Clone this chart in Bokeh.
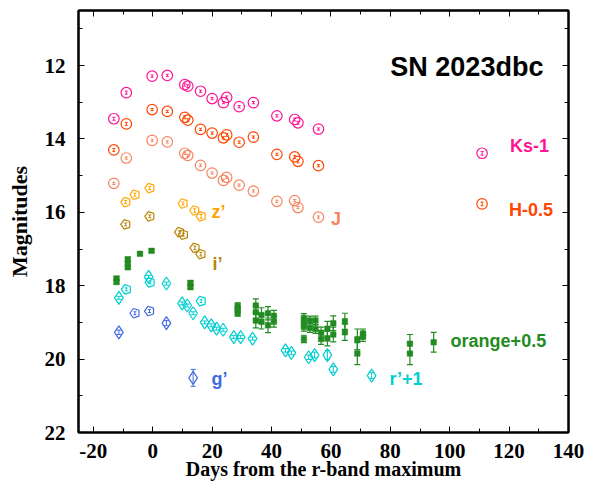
from bokeh.plotting import figure
from bokeh.models import (ColumnDataSource, Range1d, LinearAxis, Whisker, TeeHead,
                          Label, SingleIntervalTicker, CustomJSTickFormatter)
from bokeh.embed import file_html
from bokeh.resources import INLINE

# ---------------- data ----------------
ks_day = [-13.1, -8.9, -0.2, 4.9, 10.8, 11.8, 16.1, 20.0, 23.8, 24.9, 29.1, 33.9, 41.8, 47.8, 48.9, 55.8, 110.9]
ks_mag = [13.45, 12.74, 12.29, 12.27, 12.52, 12.56, 12.70, 12.90, 13.01, 12.87, 13.12, 13.01, 13.37, 13.47, 13.56, 13.73, 14.39]
ks_err = [0.04, 0.04, 0.03, 0.03, 0.04, 0.04, 0.03, 0.03, 0.03, 0.04, 0.03, 0.03, 0.03, 0.04, 0.04, 0.03, 0.05]

h_day = [-13.1, -8.9, -0.2, 4.9, 10.8, 11.8, 16.1, 20.0, 23.8, 24.9, 29.1, 33.9, 41.8, 47.8, 48.9, 55.8, 110.9]
h_mag = [14.30, 13.59, 13.20, 13.25, 13.41, 13.49, 13.74, 13.84, 13.97, 13.89, 14.09, 13.95, 14.42, 14.49, 14.61, 14.73, 15.77]
h_err = [0.04, 0.04, 0.03, 0.03, 0.04, 0.04, 0.03, 0.03, 0.03, 0.04, 0.03, 0.03, 0.03, 0.04, 0.04, 0.03, 0.05]

j_day = [-13.1, -8.9, -0.2, 4.9, 10.8, 11.8, 16.1, 20.0, 23.8, 24.9, 29.1, 33.9, 41.8, 47.8, 48.9, 55.8]
j_mag = [15.21, 14.52, 14.04, 14.08, 14.39, 14.45, 14.72, 14.93, 15.13, 15.05, 15.26, 15.42, 15.70, 15.68, 15.87, 16.13]
j_err = [0.03, 0.03, 0.03, 0.03, 0.03, 0.03, 0.03, 0.03, 0.03, 0.03, 0.03, 0.03, 0.03, 0.03, 0.03, 0.03]

z_day = [-9.1, -6.0, -1.0, 10.2, 14.1, 16.3]
z_mag = [15.72, 15.52, 15.34, 15.76, 15.95, 16.11]
z_err = [0.04, 0.04, 0.04, 0.04, 0.05, 0.05]

i_day = [-9.1, -1.0, 9.0, 10.3, 14.2, 16.2]
i_mag = [16.33, 16.11, 16.54, 16.61, 16.97, 17.14]
i_err = [0.04, 0.04, 0.04, 0.04, 0.05, 0.05]

g_pent_day = [-6.0, -1.1]
g_pent_mag = [18.75, 18.69]
g_pent_err = [0.04, 0.04]
g_diam_day = [-11.4, 4.6, 13.6]
g_diam_mag = [19.27, 19.02, 20.51]
g_diam_err = [0.06, 0.07, 0.23]

r_pent_day = [-8.9, -0.9, 16.3]
r_pent_mag = [18.10, 17.91, 18.42]
r_pent_err = [0.04, 0.04, 0.04]
r_diam_day = [-11.4, -1.4, 4.6, 9.9, 11.6, 13.6, 17.5, 19.7, 21.5, 23.7, 27.3, 29.6, 33.6,
              44.7, 46.7, 52.5, 54.5, 58.8, 60.8, 73.7]
r_diam_mag = [18.33, 17.76, 17.94, 18.48, 18.54, 18.75, 19.00, 19.08, 19.17, 19.20, 19.40, 19.40, 19.44,
              19.76, 19.83, 19.95, 19.89, 19.89, 20.28, 20.45]
r_diam_err = [0.04, 0.04, 0.04, 0.04, 0.04, 0.04, 0.04, 0.04, 0.04, 0.04, 0.04, 0.04, 0.04,
              0.05, 0.05, 0.06, 0.08, 0.12, 0.08, 0.08]

o_day = [-12.2, -12.2, -8.4, -8.4, -8.4, -4.3, -0.4, 12.7, 12.7, 28.6, 28.6, 28.6, 34.7, 34.7, 34.7,
         36.6, 36.6, 38.8, 38.8, 40.8, 40.8, 50.9, 50.9, 50.9, 50.9, 52.9, 52.9, 54.8, 54.8, 56.7, 56.7,
         58.8, 58.8, 60.8, 60.8, 64.7, 64.7, 68.9, 68.9, 70.8, 70.8, 86.6, 86.6, 94.6]
o_mag = [17.80, 17.90, 17.28, 17.40, 17.50, 17.13, 17.05, 17.92, 18.04, 18.55, 18.65, 18.75, 18.54, 18.72, 18.95,
         18.80, 18.98, 18.75, 19.08, 18.82, 18.98, 18.88, 19.00, 19.12, 19.45, 18.95, 19.15, 18.95, 19.18, 19.28, 19.45,
         19.17, 19.44, 19.02, 19.33, 18.97, 19.27, 19.46, 19.85, 19.30, 19.40, 19.58, 19.85, 19.54]
o_err = [0.05, 0.05, 0.05, 0.05, 0.05, 0.04, 0.04, 0.05, 0.05, 0.08, 0.08, 0.08, 0.18, 0.18, 0.20,
         0.20, 0.20, 0.18, 0.20, 0.15, 0.15, 0.12, 0.12, 0.12, 0.10, 0.12, 0.12, 0.12, 0.12, 0.15, 0.15,
         0.20, 0.20, 0.20, 0.20, 0.22, 0.22, 0.28, 0.30, 0.12, 0.12, 0.25, 0.30, 0.27]

x_tick_labels = {-20: "-20", 0: "0", 20: "20", 40: "40", 60: "60", 80: "80", 100: "100", 120: "120", 140: "140"}

label_text = ["SN 2023dbc", "Ks-1", "H-0.5", "J", "z\u2019", "i\u2019", "g\u2019", "r\u2019+1", "orange+0.5"]
label_x = [80.0, 120.3, 120.0, 60.0, 19.8, 20.1, 19.8, 79.7, 100.3]
label_y = [12.05, 14.18, 15.95, 16.17, 16.0, 17.42, 20.53, 20.53, 19.52]
label_size = ["27px", "18px", "18px", "18px", "18px", "18px", "18px", "18px", "18px"]
label_color = ["black", "#ff1493", "#ff4500", "#f8845e", "#ffa500", "#b8860b", "#4169e1", "#00ced1", "#228b22"]

C_KS, C_H, C_J = "#ff1493", "#ff4500", "#f8845e"
C_Z, C_I, C_G, C_R, C_O = "#ffa500", "#b8860b", "#4169e1", "#00ced1", "#228b22"

# ---------------- figure ----------------
p = figure(frame_width=490, frame_height=422, output_backend="svg", toolbar_location=None,
           x_range=Range1d(-25, 140), y_range=Range1d(22, 10.5),
           min_border_left=78, min_border_right=22, min_border_top=10, min_border_bottom=49,
           x_axis_label="Days from the r-band maximum", y_axis_label="Magnitudes")
p.grid.visible = False
p.outline_line_color = "black"
p.outline_line_width = 2
p.background_fill_color = "white"
p.border_fill_color = "white"

SERIF = "Liberation Serif"
blank = CustomJSTickFormatter(code="return '';")


def style_axis(ax, labels=True):
    ax.major_tick_in = 6
    ax.major_tick_out = 0
    ax.minor_tick_in = 4
    ax.minor_tick_out = 0
    ax.axis_line_width = 2
    ax.major_tick_line_width = 1
    ax.minor_tick_line_width = 1
    ax.major_label_text_font = SERIF
    ax.major_label_text_font_style = "bold"
    ax.major_label_text_color = "black"
    ax.axis_label_text_font = SERIF
    ax.axis_label_text_font_style = "bold"
    ax.axis_label_text_font_size = "21px"
    ax.axis_label_text_color = "black"
    ax.major_label_text_font_size = "21px"
    if not labels:
        ax.formatter = blank
        ax.major_label_standoff = 0


p.xaxis[0].ticker = SingleIntervalTicker(interval=20, num_minor_ticks=2)
p.yaxis[0].ticker = SingleIntervalTicker(interval=2, num_minor_ticks=2)
style_axis(p.xaxis[0])
style_axis(p.yaxis[0])
p.xaxis[0].major_label_overrides = x_tick_labels
p.xaxis[0].major_label_standoff = 11
p.xaxis[0].axis_label_standoff = -3
p.xaxis[0].axis_label_text_font_size = "20px"
p.yaxis[0].major_label_standoff = 13
p.yaxis[0].axis_label_standoff = 10
p.yaxis[0].axis_label_text_font_size = "22px"

top = LinearAxis(ticker=SingleIntervalTicker(interval=20, num_minor_ticks=2))
right = LinearAxis(ticker=SingleIntervalTicker(interval=2, num_minor_ticks=2))
style_axis(top, labels=False)
style_axis(right, labels=False)
p.add_layout(top, "above")
p.add_layout(right, "right")


def errbars(day, mag, err, color, head=3, width=1.0):
    src = ColumnDataSource(dict(x=day, lo=[m - e for m, e in zip(mag, err)],
                                hi=[m + e for m, e in zip(mag, err)]))
    w = Whisker(source=src, base="x", lower="lo", upper="hi", dimension="height",
                line_color=color, line_width=width,
                lower_head=TeeHead(size=head, line_color=color, line_width=width),
                upper_head=TeeHead(size=head, line_color=color, line_width=width))
    p.add_layout(w)


def circles(day, mag, err, color):
    errbars(day, mag, err, color, head=3)
    p.scatter(day, mag, marker="circle", size=10.5, fill_alpha=0, line_color=color, line_width=1.2)


def diamonds(day, mag, err, color):
    errbars(day, mag, err, color, head=5)
    p.scatter(day, mag, marker="diamond", size=13, fill_alpha=0, line_color=color, line_width=1.2)


def pentagons(day, mag, err, color):
    errbars(day, mag, err, color, head=3)
    try:
        p.ngon(x=day, y=mag, radius=5, radius_units="screen", n=5, angle=1.5708,
               fill_alpha=0, line_color=color, line_width=1.2)
    except Exception:
        p.scatter(day, mag, marker="hex", size=10, fill_alpha=0, line_color=color, line_width=1.2)


circles(ks_day, ks_mag, ks_err, C_KS)
circles(h_day, h_mag, h_err, C_H)
circles(j_day, j_mag, j_err, C_J)
pentagons(z_day, z_mag, z_err, C_Z)
pentagons(i_day, i_mag, i_err, C_I)
pentagons(g_pent_day, g_pent_mag, g_pent_err, C_G)
diamonds(g_diam_day, g_diam_mag, g_diam_err, C_G)
pentagons(r_pent_day, r_pent_mag, r_pent_err, C_R)
diamonds(r_diam_day, r_diam_mag, r_diam_err, C_R)

errbars(o_day, o_mag, o_err, C_O, head=6, width=1.2)
p.scatter(o_day, o_mag, marker="square", size=5.5, fill_color=C_O, line_color=C_O, line_alpha=0.5)

for t, x, y, s, c in zip(label_text, label_x, label_y, label_size, label_color):
    p.add_layout(Label(x=x, y=y, text=t, text_font="Liberation Sans", text_font_style="bold",
                       text_font_size=s, text_color=c, text_baseline="middle", text_align="left"))

open("out.html", "w").write(file_html(p, INLINE))
